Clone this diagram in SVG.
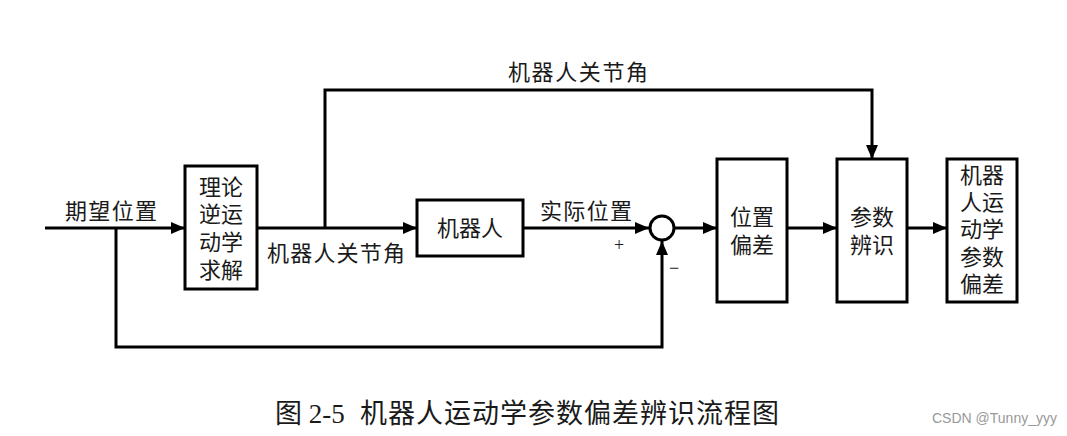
<svg xmlns="http://www.w3.org/2000/svg" width="1067" height="436" viewBox="0 0 1067 436">
<defs>
<marker id="ah" viewBox="0 0 14 12" refX="14" refY="6" markerWidth="14" markerHeight="12" markerUnits="userSpaceOnUse" orient="auto">
<path d="M0,0 L14,6 L0,12 Z" fill="#000"/>
</marker>
</defs>
<style>
.box{fill:#fff;stroke:#000;stroke-width:3}
.ln{fill:none;stroke:#000;stroke-width:3}
.t{font-family:"Liberation Serif","Noto Sans CJK SC",serif;font-size:22px;fill:#1a1a1a;text-anchor:middle;dominant-baseline:central}
.cap{font-family:"Liberation Serif","Noto Sans CJK SC",serif;font-size:27px;fill:#1a1a1a}
.wm{font-family:"Liberation Sans","Noto Sans",sans-serif;font-size:14px;fill:#999}
</style>
<rect width="1067" height="436" fill="#fff"/>
<g id="connectors">
<path class="ln" d="M45,228 H185" marker-end="url(#ah)"/>
<path class="ln" d="M116,228 V347 H662 V241" marker-end="url(#ah)"/>
<path class="ln" d="M257,228 H417" marker-end="url(#ah)"/>
<path class="ln" d="M325,228 V90 H872 V159" marker-end="url(#ah)"/>
<path class="ln" d="M523,228 H649" marker-end="url(#ah)"/>
<path class="ln" d="M675,228 H717" marker-end="url(#ah)"/>
<path class="ln" d="M787,228 H837" marker-end="url(#ah)"/>
<path class="ln" d="M907,228 H947" marker-end="url(#ah)"/>
<text class="t" x="111" y="211" textLength="92">期望位置</text>
<text class="t" x="336" y="253" textLength="138">机器人关节角</text>
<text class="t" x="578" y="72" textLength="140">机器人关节角</text>
<text class="t" x="586" y="211" textLength="92">实际位置</text>
<text class="t" x="619" y="245" style="font-size:18px">+</text>
<text class="t" x="674" y="268" style="font-size:18px">−</text>
</g>
<g id="sum">
<circle cx="662" cy="228" r="12" fill="#fff" stroke="#000" stroke-width="3"/>
</g>
<g id="ik">
<rect class="box" x="185" y="166" width="72" height="123"/>
<text class="t" x="221" y="187">理论</text>
<text class="t" x="221" y="214">逆运</text>
<text class="t" x="221" y="242">动学</text>
<text class="t" x="221" y="270">求解</text>
</g>
<g id="robot">
<rect class="box" x="417" y="200" width="106" height="56"/>
<text class="t" x="470" y="228">机器人</text>
</g>
<g id="poserr">
<rect class="box" x="717" y="159" width="70" height="143"/>
<text class="t" x="752" y="217">位置</text>
<text class="t" x="752" y="245">偏差</text>
</g>
<g id="ident">
<rect class="box" x="837" y="159" width="70" height="143"/>
<text class="t" x="872" y="217">参数</text>
<text class="t" x="872" y="245">辨识</text>
</g>
<g id="result">
<rect class="box" x="947" y="159" width="70" height="143"/>
<text class="t" x="982" y="175">机器</text>
<text class="t" x="982" y="202">人运</text>
<text class="t" x="982" y="229">动学</text>
<text class="t" x="982" y="257">参数</text>
<text class="t" x="982" y="284">偏差</text>
</g>
<text class="cap" x="275" y="423" xml:space="preserve">图 2-5  <tspan x="360" textLength="419">机器人运动学参数偏差辨识流程图</tspan></text>
<text class="wm" x="932" y="423">CSDN @Tunny_yyy</text>
</svg>
